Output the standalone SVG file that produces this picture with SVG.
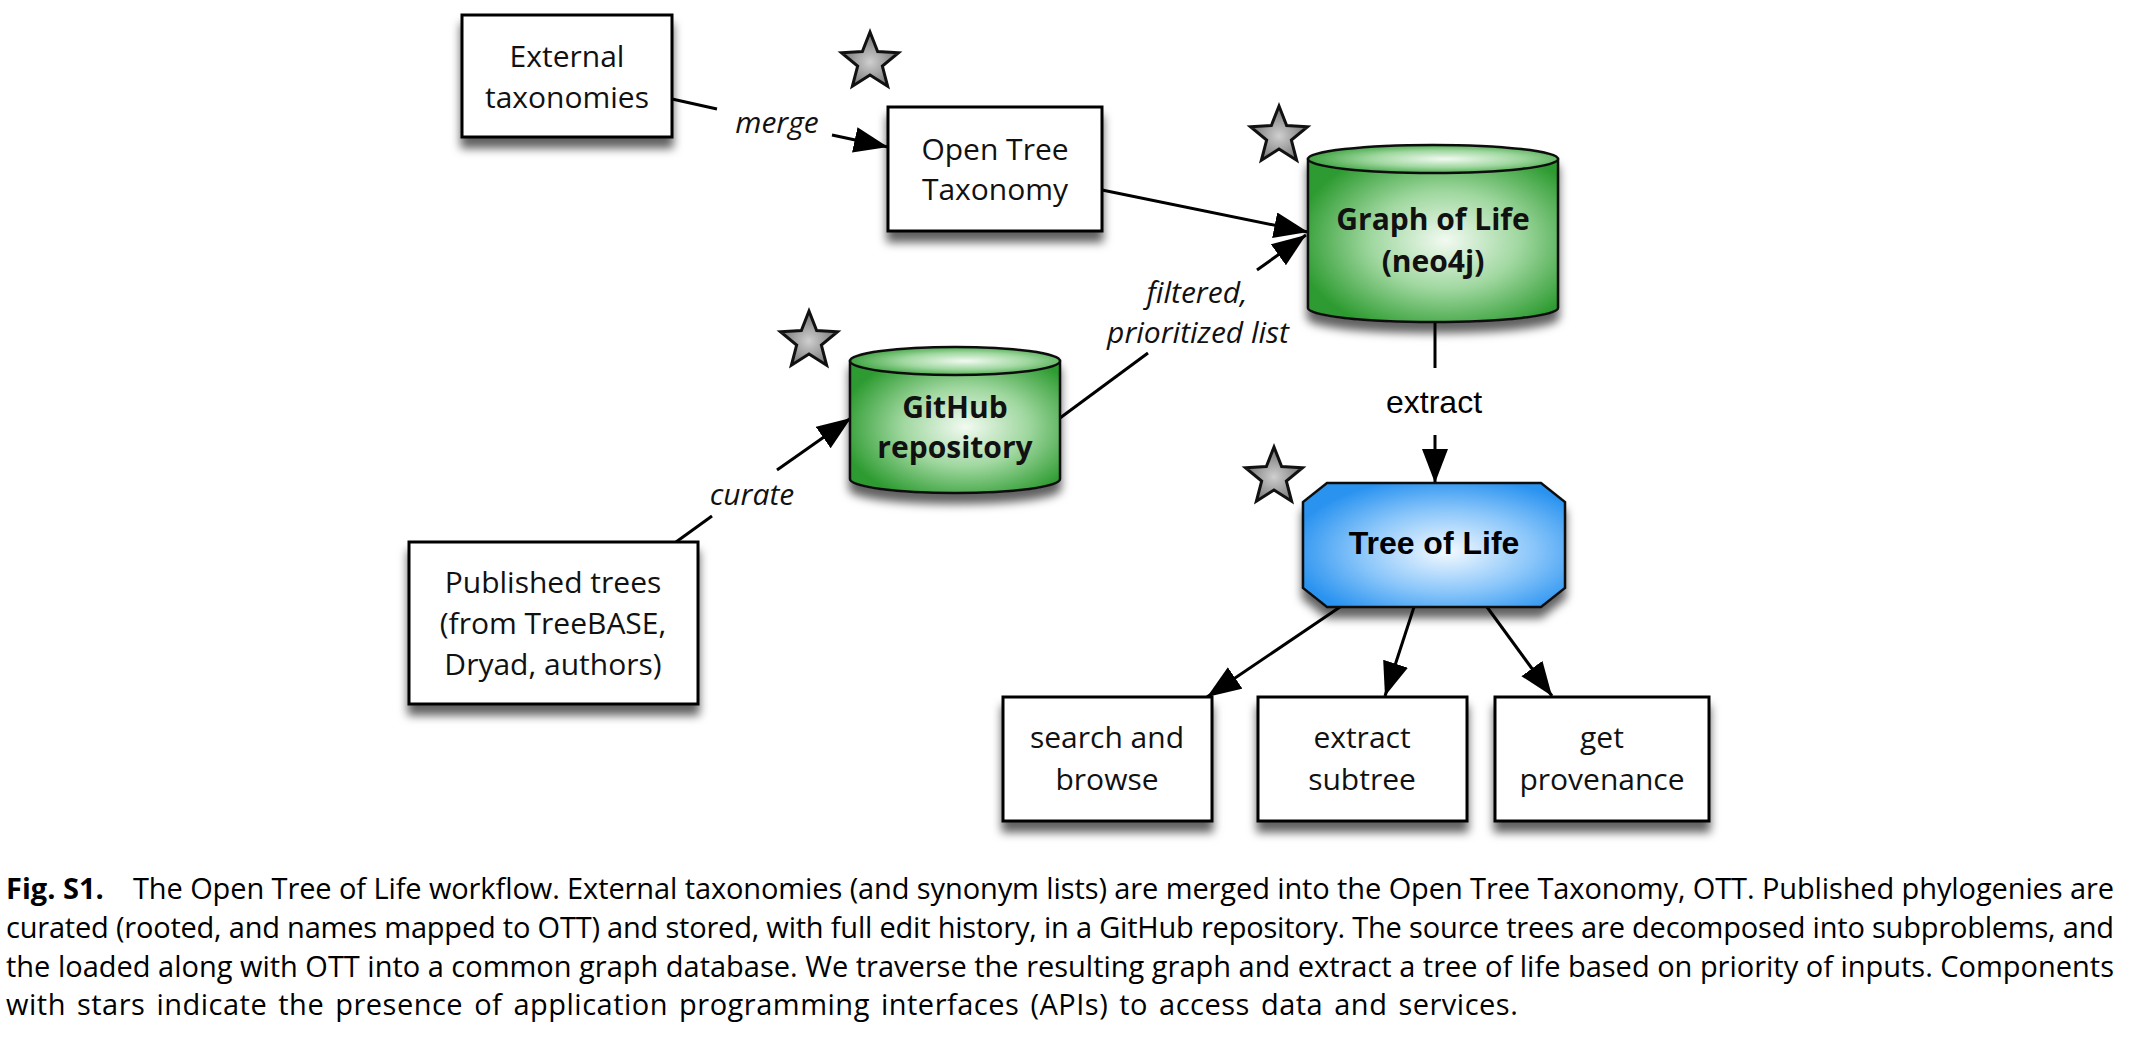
<svg xmlns="http://www.w3.org/2000/svg" width="2130" height="1039" viewBox="0 0 2130 1039">
<style>
.box{fill:#fff;stroke:#000;stroke-width:3}
.cyl{stroke:#111;stroke-width:2.5}
.lbl{font-family:"Open Sans","Liberation Sans",sans-serif;font-size:30px;fill:#111;text-anchor:middle}
.bold{font-weight:bold}
.it{font-family:"Open Sans","Liberation Sans",sans-serif;font-size:30px;font-style:italic;fill:#111;text-anchor:middle}
.hv{font-family:"Liberation Sans",Arial,sans-serif;fill:#000;text-anchor:middle}
.edge{fill:none;stroke:#000;stroke-width:3}
.star{stroke:#111;stroke-width:3;fill:url(#gStar);stroke-linejoin:miter}
.cap{font-family:"Open Sans","Liberation Sans",sans-serif;font-size:29px;fill:#000}
</style>
<defs>
<filter id="sh" x="-20%" y="-20%" width="150%" height="170%">
<feDropShadow dx="0" dy="10" stdDeviation="5" flood-color="#000" flood-opacity="0.62"/>
</filter>
<radialGradient id="gGreen" cx="0.55" cy="0.5" r="0.6">
<stop offset="0" stop-color="#f2faf2"/>
<stop offset="0.5" stop-color="#9fd79f"/>
<stop offset="1" stop-color="#2d9b30"/>
</radialGradient>
<radialGradient id="gBlue" cx="0.55" cy="0.55" r="0.6">
<stop offset="0" stop-color="#f4faff"/>
<stop offset="0.55" stop-color="#8ac6fa"/>
<stop offset="1" stop-color="#2a93f0"/>
</radialGradient>
<radialGradient id="gStar" cx="0.5" cy="0.55" r="0.55">
<stop offset="0" stop-color="#cfcfcf"/>
<stop offset="1" stop-color="#6e6e6e"/>
</radialGradient>
<polygon id="starShape" class="star" points="0,-30 7.64,-10.52 28.53,-9.27 12.36,4.02 17.63,24.27 0,13 -17.63,24.27 -12.36,4.02 -28.53,-9.27 -7.64,-10.52"/>
<marker id="arr" markerUnits="userSpaceOnUse" markerWidth="36" markerHeight="28" refX="34" refY="13" orient="auto">
<path d="M0,0 L34,13 L0,26 Z" fill="#000"/>
</marker>
</defs>
<rect width="2130" height="1039" fill="#fff"/>

<g id="connectors">
<path class="edge" d="M672,99 L717,109"/>
<path class="edge" d="M832,135 L888,147" marker-end="url(#arr)"/>
<text class="it" x="777" y="133">merge</text>
<path class="edge" d="M1102,190 L1308,232" marker-end="url(#arr)"/>
<path class="edge" d="M1060,418 L1148,353"/>
<path class="edge" d="M1257,270 L1306,235" marker-end="url(#arr)"/>
<text class="it" x="1197" y="303">filtered,</text>
<text class="it" x="1198" y="343">prioritized list</text>
<path class="edge" d="M676,542 L712,516"/>
<path class="edge" d="M777,470 L851,418" marker-end="url(#arr)"/>
<text class="it" x="752" y="505">curate</text>
<path class="edge" d="M1435,322 L1435,368"/>
<path class="edge" d="M1435,435 L1435,483" marker-end="url(#arr)"/>
<text class="hv" x="1434" y="413" font-size="32">extract</text>
<path class="edge" d="M1340,607 L1207,697" marker-end="url(#arr)"/>
<path class="edge" d="M1414,607 L1385,696" marker-end="url(#arr)"/>
<path class="edge" d="M1487,607 L1552,696" marker-end="url(#arr)"/>
</g>

<g id="external-taxonomies">
<rect class="box" x="462" y="15" width="210" height="122" filter="url(#sh)"/>
<text class="lbl" x="567" y="67">External</text>
<text class="lbl" x="567" y="108">taxonomies</text>
</g>

<g id="open-tree-taxonomy">
<rect class="box" x="888" y="107" width="214" height="124" filter="url(#sh)"/>
<text class="lbl" x="995" y="160">Open Tree</text>
<text class="lbl" x="995" y="200">Taxonomy</text>
<use href="#starShape" x="870" y="62"/>
</g>

<g id="graph-of-life">
<g filter="url(#sh)">
<path class="cyl" fill="url(#gGreen)" d="M1308,159 L1308,308 A125,14 0 0 0 1558,308 L1558,159 Z"/>
<ellipse class="cyl" fill="url(#gGreen)" cx="1433" cy="159" rx="125" ry="14"/>
</g>
<text class="lbl bold" x="1433" y="230">Graph of Life</text>
<text class="lbl bold" x="1433" y="272">(neo4j)</text>
<use href="#starShape" x="1279" y="136"/>
</g>

<g id="github-repository">
<g filter="url(#sh)">
<path class="cyl" fill="url(#gGreen)" d="M850,361 L850,479 A105,14 0 0 0 1060,479 L1060,361 Z"/>
<ellipse class="cyl" fill="url(#gGreen)" cx="955" cy="361" rx="105" ry="14"/>
</g>
<text class="lbl bold" x="955" y="418">GitHub</text>
<text class="lbl bold" x="955" y="458">repository</text>
<use href="#starShape" x="809" y="341"/>
</g>

<g id="published-trees">
<rect class="box" x="409" y="542" width="289" height="162" filter="url(#sh)"/>
<text class="lbl" x="553" y="593">Published trees</text>
<text class="lbl" x="553" y="634">(from TreeBASE,</text>
<text class="lbl" x="553" y="675">Dryad, authors)</text>
</g>

<g id="tree-of-life">
<path d="M1327,483 L1541,483 L1565,502 L1565,588 L1541,607 L1327,607 L1303,588 L1303,502 Z" fill="url(#gBlue)" stroke="#111" stroke-width="2.5" filter="url(#sh)"/>
<text class="hv bold" x="1434" y="554" font-size="32">Tree of Life</text>
<use href="#starShape" x="1274" y="477"/>
</g>

<g id="search-and-browse">
<rect class="box" x="1003" y="697" width="209" height="124" filter="url(#sh)"/>
<text class="lbl" x="1107" y="748">search and</text>
<text class="lbl" x="1107" y="790">browse</text>
</g>

<g id="extract-subtree">
<rect class="box" x="1258" y="697" width="209" height="124" filter="url(#sh)"/>
<text class="lbl" x="1362" y="748">extract</text>
<text class="lbl" x="1362" y="790">subtree</text>
</g>

<g id="get-provenance">
<rect class="box" x="1495" y="697" width="214" height="124" filter="url(#sh)"/>
<text class="lbl" x="1602" y="748">get</text>
<text class="lbl" x="1602" y="790">provenance</text>
</g>

<g id="caption">
<text class="cap" x="6" y="899" font-weight="bold">Fig. S1.</text>
<text class="cap" x="133" y="899" textLength="1981" lengthAdjust="spacing">The Open Tree of Life workflow. External taxonomies (and synonym lists) are merged into the Open Tree Taxonomy, OTT. Published phylogenies are</text>
<text class="cap" x="6" y="938" textLength="2108" lengthAdjust="spacing">curated (rooted, and names mapped to OTT) and stored, with full edit history, in a GitHub repository. The source trees are decomposed into subproblems, and</text>
<text class="cap" x="6" y="977" textLength="2108" lengthAdjust="spacing">the loaded along with OTT into a common graph database. We traverse the resulting graph and extract a tree of life based on priority of inputs. Components</text>
<text class="cap" x="6" y="1015" word-spacing="3" letter-spacing="0.5">with stars indicate the presence of application programming interfaces (APIs) to access data and services.</text>
</g>
</svg>
